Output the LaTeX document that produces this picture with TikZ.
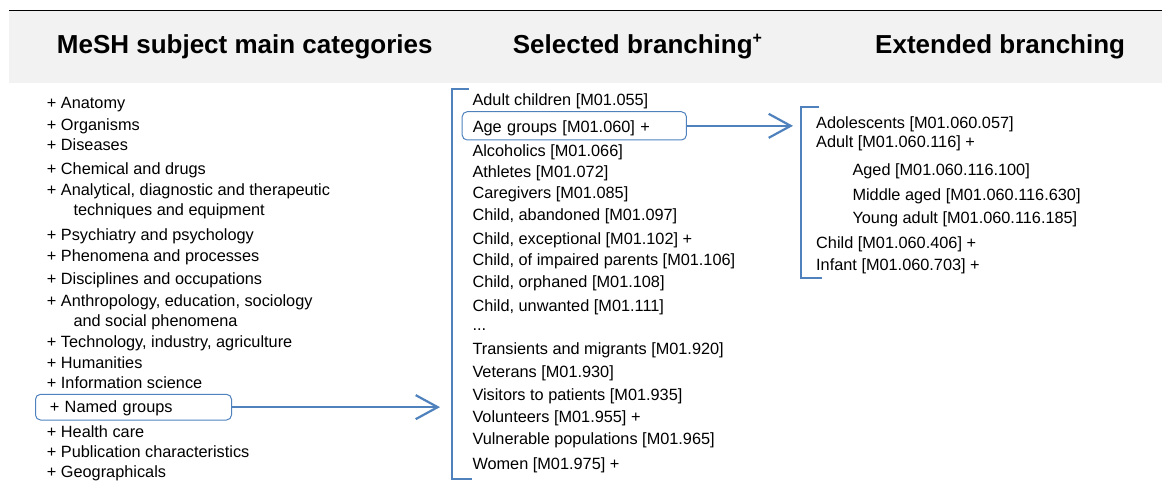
\documentclass[tikz,border=0pt]{standalone}
\usepackage{fontspec}
\setmainfont{Liberation Sans}
\definecolor{meshblue}{RGB}{79, 129, 189}
\definecolor{headgray}{RGB}{242, 242, 242}
\usetikzlibrary{arrows.meta}

\begin{document}
\begin{tikzpicture}[x=1pt, y=-1pt,
    item/.style={anchor=base west, inner sep=0pt, align=left,
                 font=\fontsize{16.3}{20}\selectfont},
    head/.style={anchor=base west, inner sep=0pt,
                 font=\fontsize{26}{30}\selectfont\bfseries},
    selbox/.style={draw=meshblue, line width=1pt, rounded corners=5pt,
                   anchor=base west, inner ysep=0pt, align=left,
                   font=\fontsize{16.3}{20}\selectfont},
    bracket/.style={meshblue, line width=2.2pt},
    pick/.style={-{Straight Barb[length=22pt, width=24pt]}, line width=2.2pt, meshblue}]
  \useasboundingbox (0,0) rectangle (1162,500);

  % Header band
  \fill[headgray] (9,11) rectangle (1162,83.3);
  \draw[line width=1pt] (9,11) -- (1162,11);
  \node[head] (hcat) at (56.7,54) {MeSH subject main categories};
  \node[head] (hsel) at (512.7,54)
    {Selected branching\raisebox{10.5pt}{\fontsize{16}{16}\selectfont +}};
  \node[head] (hext) at (875,54) {Extended branching};

  % Left column: main categories (two-line entries sit on their last line)
  \foreach \y/\txt [count=\i] in {
      108.7/{+ Anatomy}, 130.3/{+ Organisms}, 151/{+ Diseases},
      174.3/{+ Chemical and drugs},
      215.3/{+ Analytical, diagnostic and therapeutic\\\hspace*{26.6pt}techniques and equipment},
      240/{+ Psychiatry and psychology}, 261/{+ Phenomena and processes},
      284.3/{+ Disciplines and occupations},
      326/{+ Anthropology, education, sociology\\\hspace*{26.6pt}and social phenomena},
      347.7/{+ Technology, industry, agriculture}, 368.3/{+ Humanities},
      388.3/{+ Information science}, 437.7/{+ Health care},
      457.7/{+ Publication characteristics}, 477.7/{+ Geographicals}}
    \node[item] (cat\i) at (46.7,\y) {\txt};
  \node[selbox, inner xsep=14.3pt, text width=167.4pt,
        text height=18.4pt, text depth=7.3pt] (named) at (35,412.7) {+ Named groups};

  % Middle column: selected branching
  \draw[bracket] (469,89.3) -- (451.7,89.3) -- (451.7,479.3) -- (471.7,479.3);
  \foreach \y/\txt [count=\i] in {
      106/{Adult children [M01.055]}, 157/{Alcoholics [M01.066]},
      178/{Athletes [M01.072]}, 198.7/{Caregivers [M01.085]},
      220.3/{Child, abandoned [M01.097]}, 244.3/{Child, exceptional [M01.102] +},
      265.3/{Child, of impaired parents [M01.106]}, 287.7/{Child, orphaned [M01.108]},
      311/{Child, unwanted [M01.111]}, 330.5/{...},
      354.3/{Transients and migrants [M01.920]}, 377.7/{Veterans [M01.930]},
      400/{Visitors to patients [M01.935]}, 422/{Volunteers [M01.955] +},
      444.3/{Vulnerable populations [M01.965]}, 469.3/{Women [M01.975] +}}
    \node[item] (sel\i) at (472.3,\y) {\txt};
  \node[selbox, inner xsep=10.6pt, text width=203pt,
        text height=20.3pt, text depth=8pt] (age) at (461.7,132) {Age groups [M01.060] +};

  % Right column: extended branching
  \draw[bracket] (819.3,106.7) -- (800.7,106.7) -- (800.7,278.3) -- (821.7,278.3);
  \node[item] (ext1) at (816,128.7) {Adolescents [M01.060.057]};
  \node[item] (ext2) at (816,147) {Adult [M01.060.116] +};
  \node[item] (ext3) at (852.3,175.3) {Aged [M01.060.116.100]};
  \node[item] (ext4) at (852.3,200.3) {Middle aged [M01.060.116.630]};
  \node[item] (ext5) at (852.3,223.7) {Young adult [M01.060.116.185]};
  \node[item] (ext6) at (816,248.7) {Child [M01.060.406] +};
  \node[item] (ext7) at (816,270.3) {Infant [M01.060.703] +};

  % Arrows
  \coordinate (seltip) at (440,407.15);
  \coordinate (exttip) at (793,125.85);
  \draw[pick] (named.east) -- (seltip);
  \draw[pick] (age.east) -- (exttip);
\end{tikzpicture}
\end{document}
